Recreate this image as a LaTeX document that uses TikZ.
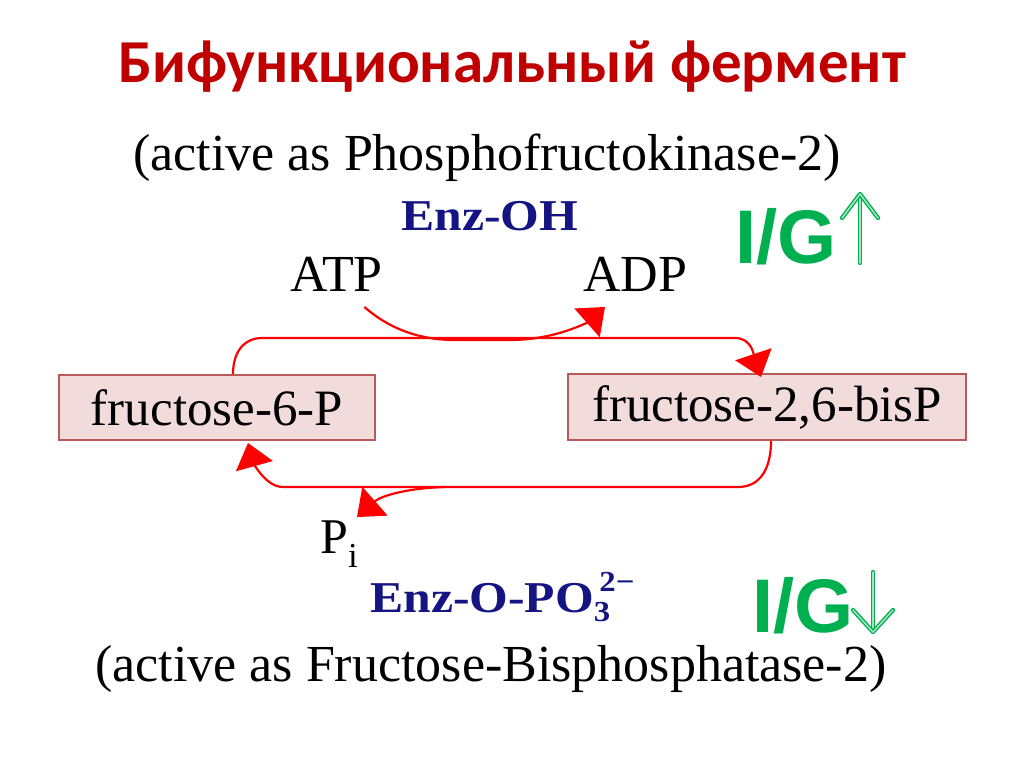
\documentclass[tikz,border=0pt]{standalone}
\usepackage{fontspec}
\setmainfont{Liberation Serif}
\newfontfamily\titlefont{Carlito}
\newfontfamily\igfont{Liberation Sans}
\usetikzlibrary{arrows.meta,calc}
\definecolor{titlered}{RGB}{192,0,0}
\definecolor{navy}{RGB}{20,20,130}
\definecolor{igreen}{RGB}{0,176,80}
\definecolor{boxfill}{RGB}{242,220,219}
\definecolor{boxline}{RGB}{185,90,90}
\definecolor{rxnred}{RGB}{255,0,0}
\begin{document}
\begin{tikzpicture}[x=1pt,y=-1pt,
  lbl/.style={inner sep=0pt, font=\fontsize{52}{60}\selectfont, text=black},
  metab/.style={draw=boxline, fill=boxfill, line width=2pt, inner sep=0pt, font=\fontsize{51}{60}\selectfont},
  rxn/.style={draw=rxnred, line width=2.2pt, -{Triangle[length=24pt,width=38pt]}},
  enz/.style={inner sep=0pt, text=navy, font=\bfseries\fontsize{44}{50}\selectfont},
  ig/.style={inner sep=0pt, text depth=0pt, text=igreen, font=\igfont\bfseries\fontsize{76}{80}\selectfont},
  igarrow/.style={draw=igreen, double=igreen!35, double distance=1.5pt, line width=1.4pt, line cap=round, line join=round}
]
\useasboundingbox (0,0) rectangle (1024,767);
\fill[white] (0,0) rectangle (1024,767);

\node[anchor=base, inner sep=0pt, text=titlered, font=\titlefont\bfseries\fontsize{61}{70}\selectfont] (title) at (512,83) {Бифункциональный фермент};

\node[lbl, anchor=base west] (kin) at (133,171) {(active as Phosphofructokinase-2)};
\node[enz, anchor=base west] (enzoh) at (401,230) {\scalebox{1.13}[1]{Enz-OH}};
\node[ig, anchor=base west] (igup) at (735,263) {I/G};
\node[lbl, anchor=base west] (atp) at (290,291) {ATP};
\node[lbl, anchor=base west] (adp) at (583,291) {ADP};

\node[metab, minimum width=316pt, minimum height=65pt] (f6p) at (217,407.5) {fructose-6-P};
\node[metab, minimum width=398pt, minimum height=66pt] (f26) at (767,407) {fructose-2,6-bisP};

\node[lbl, anchor=base west, font=\fontsize{50}{60}\selectfont] (pi) at (320,553) {P\textsubscript{i}};
\node[enz, anchor=base west] (enzp) at (370,612) {\scalebox{1.13}[1]{Enz-O-PO{\fontsize{29}{30}\selectfont\rlap{\raisebox{21pt}{\,2−}}\raisebox{-9pt}{3}}}};
\node[ig, anchor=base west] (igdn) at (752,632) {I/G};
\node[lbl, anchor=base west] (fbp) at (95,681) {(active as Fructose-Bisphosphatase-2)};

% reaction connectors
\draw[rxn] ($(f6p.north west)+(175,0)$) .. controls +(0,-22) and +(-18,0) .. (262,338) -- (735,338) .. controls +(17,0) and +(-7,-21) .. ($(f26.north west)+(194,4)$);
\draw[rxn] ($(atp.base)+(28,16)$) .. controls +(25,22) and +(-35,0) .. (455,340) -- (510,340) .. controls +(45,0) and +(-17,15) .. ($(adp.base west)+(22,16)$);
\draw[rxn] ($(f26.south west)+(204,0)$) .. controls +(0,28) and +(22,0) .. (738,487) -- (283,487) .. controls +(-18,0) and +(5,18) .. ($(f6p.south west)+(190,2)$);
\draw[rxn] (445,487) .. controls +(-35,1) and +(25,-22) .. ($(pi.north west)+(37,-3)$);

% green arrows
\draw[igarrow] (860,263) -- (860,197);
\draw[igarrow] (842,218) -- (860,194) -- (878,218);
\draw[igarrow] (873,572) -- (873,629);
\draw[igarrow] (853,610) -- (873,632) -- (893,610);
\end{tikzpicture}
\end{document}
